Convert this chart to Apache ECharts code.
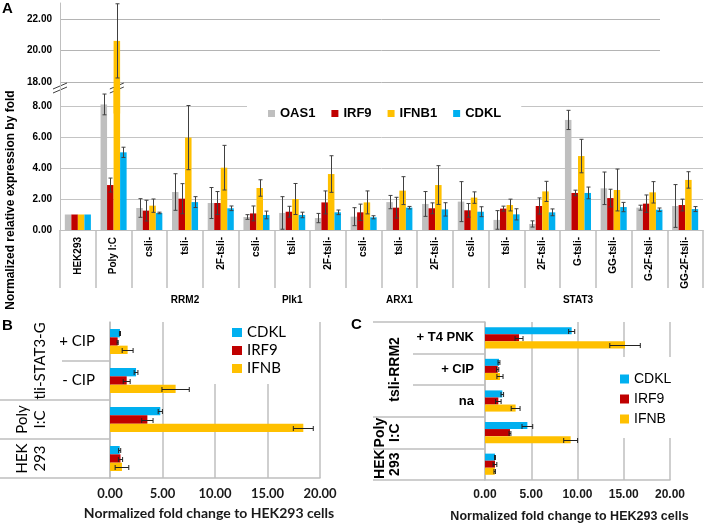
<!DOCTYPE html>
<html><head><meta charset="utf-8">
<script src="https://cdn.jsdelivr.net/npm/echarts@6.0.0/dist/echarts.min.js"></script>
<style>html,body{margin:0;padding:0;background:#fff}#c{width:705px;height:526px}</style>
</head><body><div id="c"></div>
<script>
// ---------------- Panel A data ----------------
const catsA = ['HEK293','Poly I:C','RRM2|csli-','RRM2|tsli-','RRM2|2F-tsli-','Plk1|csli-','Plk1|tsli-','Plk1|2F-tsli-','ARX1|csli-','ARX1|tsli-','ARX1|2F-tsli-','STAT3|csli-','STAT3|tsli-','STAT3|2F-tsli-','STAT3|G-tsli-','STAT3|GG-tsli-','STAT3|G-2F-tsli-','STAT3|GG-2F-tsli-'];
const oas1     = [1.00, 8.10, 1.42, 2.45, 1.74, 0.84, 1.10, 0.77, 0.86, 1.80, 1.68, 1.83, 0.65, 0.39, 7.10, 2.69, 1.44, 1.55];
const oas1Err  = [0.00, 0.67, 0.60, 1.18, 1.00, 0.15, 1.05, 0.30, 0.58, 0.43, 0.80, 1.29, 0.60, 0.20, 0.62, 1.05, 0.16, 1.38];
const irf9     = [1.00, 2.90, 1.25, 2.02, 1.74, 1.07, 1.18, 1.78, 1.14, 1.44, 1.40, 1.27, 1.38, 1.55, 2.39, 2.06, 1.70, 1.61];
const irf9Err  = [0.00, 0.45, 0.67, 0.97, 0.74, 0.48, 0.35, 0.74, 0.53, 0.67, 0.35, 0.44, 0.16, 0.52, 0.18, 0.57, 0.56, 0.38];
const ifnb1    = [1.00, 20.6, 1.57, 5.96, 4.02, 2.71, 2.00, 3.61, 1.78, 2.54, 2.90, 2.09, 1.61, 2.49, 4.77, 2.58, 2.43, 3.23];
const ifnb1Err = [0.00, 2.35, 0.43, 2.07, 1.44, 0.53, 1.00, 1.18, 0.74, 0.90, 1.25, 0.37, 0.38, 0.65, 1.08, 1.35, 0.69, 0.53];
const cdkl     = [1.00, 5.01, 1.10, 1.80, 1.40, 0.97, 0.97, 1.14, 0.82, 1.44, 1.33, 1.18, 1.01, 1.14, 2.39, 1.48, 1.31, 1.35];
const cdklErr  = [0.00, 0.33, 0.05, 0.35, 0.15, 0.25, 0.18, 0.15, 0.10, 0.08, 0.43, 0.32, 0.36, 0.22, 0.38, 0.30, 0.11, 0.16];
const yTicksLowerA = [0, 9.16];   // lower (unbroken) segment of the broken axis
const yTicksUpperA = [16, 23];    // upper segment

// ---------------- Panel B data ----------------
const catsB = ['tli-STAT3-G|+ CIP','tli-STAT3-G|- CIP','Poly I:C','HEK 293'];
const cdklB    = [0.95, 2.48, 4.79, 0.92];
const cdklBErr = [0.05, 0.18, 0.20, 0.10];
const irf9B    = [0.73, 1.59, 3.56, 1.00];
const irf9BErr = [0.05, 0.33, 0.54, 0.20];
const ifnbB    = [1.68, 6.25, 18.41, 1.14];
const ifnbBErr = [0.52, 1.30, 0.95, 0.65];

// ---------------- Panel C data ----------------
const catsC = ['tsli-RRM2|+ T4 PNK','tsli-RRM2|+ CIP','tsli-RRM2|na','Poly I:C','HEK 293'];
const cdklC    = [9.37, 1.51, 1.87, 4.58, 1.08];
const cdklCErr = [0.33, 0.10, 0.14, 0.58, 0.05];
const irf9C    = [3.68, 1.37, 1.44, 2.70, 1.08];
const irf9CErr = [0.43, 0.12, 0.30, 0.10, 0.20];
const ifnbC    = [15.14, 1.62, 3.31, 9.26, 1.05];
const ifnbCErr = [1.65, 0.33, 0.48, 0.75, 0.08];
const xTicksBC = [0, 20, 5];      // min, max, interval

// ---------------- styles ----------------
const FA = 'Arial, "Liberation Sans", sans-serif';
const FB = 'Lato, "Open Sans", sans-serif';
const COL = {OAS1:'#BFBFBF', IRF9:'#C00000', IFNB:'#FFC000', CDKL:'#00B0F0'};
const GL = '#bfbfbf';

// grouping helpers
const grp = c => c.includes('|') ? c.split('|')[0] : '';
const inner = c => c.includes('|') ? c.split('|')[1] : '';
const groupStartsA = catsA.map((c,i)=> (i===0 || grp(c)!==grp(catsA[i-1])) ? i : -1).filter(i=>i>=0);
const groupAxisA = catsA.map(()=> '');
groupStartsA.forEach((s,k)=>{
  const e = k+1 < groupStartsA.length ? groupStartsA[k+1] : catsA.length;
  if (grp(catsA[s])) groupAxisA[Math.floor((s+e-1)/2)] = grp(catsA[s]);
});
function outerLabels(cats){
  const n = cats.length, out = new Array(2*n+1).fill('');
  const g = c => c.includes('|') ? c.split('|')[0] : c;
  let s = 0;
  for (let i=1;i<=n;i++){
    if (i===n || g(cats[i])!==g(cats[s])){
      out[s+i] = cats[s].includes('|') ? g(cats[s]) : cats[s].replace(' ', '\n');
      s = i;
    }
  }
  return out;
}
const outerB = outerLabels(catsB), outerC = outerLabels(catsC);
const innerTicks = cats => cats.map((c,i)=> (i>0 && cats[i-1].includes('|')) ? i : -1).filter(i=>i>=0);
const outerTicksB = [2,3,4].map(k=>2*k);
const outerTicksC = [0,3,4,5].map(k=>2*k);

const LAY = {
  aUpper:{left:60, right:2, top:3, height:110.5},
  aLower:{left:60, right:2, top:88, height:142},
  b:{left:110, right:385, top:322, height:156},
  c:{left:485, right:35, top:322, height:158}
};

function bars(name, data, xi, yi, color, gap){
  return {type:'bar', name, data, xAxisIndex:xi, yAxisIndex:yi, barGap:'0%', barCategoryGap:gap,
    itemStyle:{color}, z:2, silent:true};
}
function errs(vals, e, xi, yi, j, n, gap, horizontal, cap, color){
  const data = vals.map((v,i)=> horizontal ? [v-e[i], v+e[i], i, e[i]] : [i, v-e[i], v+e[i], e[i]]);
  return {
    type:'custom', xAxisIndex:xi, yAxisIndex:yi, clip:true, silent:true, z:3,
    encode: horizontal ? {x:[0,1], y:2} : {x:0, y:[1,2]},
    data,
    renderItem(params, api){
      if (!(api.value(3) > 0)) return;
      const st = {stroke:color, lineWidth:1};
      if (!horizontal){
        const band = api.size([1,0])[0];
        const gw = band*(1-gap), bw = gw/n, off = -gw/2 + (j+0.5)*bw;
        const p1 = api.coord([api.value(0), api.value(1)]);
        const p2 = api.coord([api.value(0), api.value(2)]);
        const x = Math.round(p1[0]+off)+0.5;
        return {type:'group', children:[
          {type:'line', shape:{x1:x,y1:p1[1],x2:x,y2:p2[1]}, style:st},
          {type:'line', shape:{x1:x-cap,y1:p1[1],x2:x+cap,y2:p1[1]}, style:st},
          {type:'line', shape:{x1:x-cap,y1:p2[1],x2:x+cap,y2:p2[1]}, style:st}]};
      } else {
        const band = api.size([0,1])[1];
        const gw = band*(1-gap), bw = gw/n, off = -gw/2 + (j+0.5)*bw;
        const p1 = api.coord([api.value(0), api.value(2)]);
        const p2 = api.coord([api.value(1), api.value(2)]);
        const y = Math.round(p1[1]+off)+0.5;
        return {type:'group', children:[
          {type:'line', shape:{x1:p1[0],y1:y,x2:p2[0],y2:y}, style:st},
          {type:'line', shape:{x1:p1[0],y1:y-cap,x2:p1[0],y2:y+cap}, style:st},
          {type:'line', shape:{x1:p2[0],y1:y-cap,x2:p2[0],y2:y+cap}, style:st}]};
      }
    }
  };
}

const gapA = 0.27, gapB = 0.36, gapC = 0.33;
const seriesA = [['OAS1',oas1,oas1Err,COL.OAS1],['IRF9',irf9,irf9Err,COL.IRF9],['IFNB1',ifnb1,ifnb1Err,COL.IFNB],['CDKL',cdkl,cdklErr,COL.CDKL]];
const seriesB = [['CDKL',cdklB,cdklBErr,COL.CDKL],['IRF9',irf9B,irf9BErr,COL.IRF9],['IFNB',ifnbB,ifnbBErr,COL.IFNB]];
const seriesC = [['CDKL',cdklC,cdklCErr,COL.CDKL],['IRF9',irf9C,irf9CErr,COL.IRF9],['IFNB',ifnbC,ifnbCErr,COL.IFNB]];

const series = [];
seriesA.forEach(([n,v,e,c],j)=>{
  series.push(bars(n, v, 1, 1, c, gapA*100+'%'));
  series.push(bars(n, v, 0, 0, c, gapA*100+'%'));
  series.push(errs(v, e, 1, 1, j, 4, gapA, false, 2, '#404040'));
  series.push(errs(v, e, 0, 0, j, 4, gapA, false, 2, '#404040'));
});
seriesB.forEach(([n,v,e,c],j)=>{
  series.push(bars(n, v, 2, 2, c, gapB*100+'%'));
  series.push(errs(v, e, 2, 2, j, 3, gapB, true, 2.5, '#222'));
});
seriesC.forEach(([n,v,e,c],j)=>{
  series.push(bars(n, v, 3, 3, c, gapC*100+'%'));
  series.push(errs(v, e, 3, 3, j, 3, gapC, true, 2.5, '#222'));
});

const axLabA = {fontFamily:FA, fontWeight:'bold', fontSize:10, color:'#000'};
const fmt2 = v => v.toFixed(2);
function valueAxisBC(gi, font, fsize, nameSize, nameGap, namePadRight){
  return {gridIndex:gi, type:'value', min:xTicksBC[0], max:xTicksBC[1], interval:xTicksBC[2],
    axisLine:{show:true, lineStyle:{color:GL, width:1.5}}, axisTick:{show:false},
    splitLine:{show:true, lineStyle:{color:GL, width:1.5}},
    axisLabel:{formatter:fmt2, margin:9, fontFamily:font, fontWeight:'bold', fontSize:fsize, color:'#1a1a1a'},
    name:'Normalized fold change to HEK293 cells', nameLocation:'middle', nameGap,
    nameTextStyle:{fontFamily:font, fontWeight:'bold', fontSize:nameSize, color:'#1a1a1a', padding:[0,namePadRight,0,0]}};
}

const option = {
  animation:false,
  backgroundColor:'#fff',
  grid:[LAY.aUpper, LAY.aLower, LAY.b, LAY.c, LAY.aLower, LAY.b, LAY.c].map(g=>Object.assign({outerBoundsMode:'none'}, g)),
  xAxis:[
    {gridIndex:0, type:'category', data:catsA, show:false},
    {gridIndex:1, type:'category', data:catsA,
      axisLine:{show:true, lineStyle:{color:GL, width:1}},
      axisTick:{show:true, interval:0, length:58, lineStyle:{color:GL, width:1.5}},
      axisLabel:Object.assign({interval:0, rotate:90, margin:7, formatter:v=>v.includes('|')?inner(v):v}, axLabA)},
    valueAxisBC(2, FB, 13, 14, 28, 12),
    valueAxisBC(3, FA, 12, 12.5, 30, 16),
    {gridIndex:4, type:'category', data:groupAxisA, position:'bottom', offset:58,
      axisLine:{show:false},
      axisTick:{show:true, interval:(i)=>groupStartsA.includes(i), length:18, lineStyle:{color:GL, width:1.5}},
      axisLabel:Object.assign({interval:0, margin:7}, axLabA)},
    {gridIndex:5, type:'value', show:false},
    {gridIndex:6, type:'value', show:false}
  ],
  yAxis:[
    {gridIndex:0, type:'value', min:yTicksUpperA[0], max:yTicksUpperA[1], interval:2,
      axisLine:{show:true, lineStyle:{color:GL}}, axisTick:{show:false},
      splitLine:{show:true, showMinLine:false, showMaxLine:false, lineStyle:{color:'#b4b4b4'}},
      axisLabel:Object.assign({formatter:fmt2, margin:8, showMinLabel:false, showMaxLabel:false}, axLabA)},
    {gridIndex:1, type:'value', min:yTicksLowerA[0], max:yTicksLowerA[1], interval:2,
      axisLine:{show:true, lineStyle:{color:GL}}, axisTick:{show:false},
      splitLine:{show:true, showMaxLine:false, lineStyle:{color:'#c4c4c4'}},
      axisLabel:Object.assign({formatter:fmt2, margin:8, showMaxLabel:false}, axLabA)},
    {gridIndex:2, type:'category', inverse:true, data:catsB,
      axisLine:{show:true, lineStyle:{color:GL, width:1.5}},
      axisTick:{show:true, interval:(i)=>innerTicks(catsB).includes(i), length:48, lineStyle:{color:GL, width:1.5}},
      axisLabel:{interval:0, margin:15, formatter:inner, fontFamily:FB, fontSize:15, color:'#000'}},
    {gridIndex:3, type:'category', inverse:true, data:catsC,
      axisLine:{show:true, lineStyle:{color:GL, width:1.5}},
      axisTick:{show:true, interval:(i)=>innerTicks(catsC).includes(i), length:72, lineStyle:{color:GL, width:1.5}},
      axisLabel:{interval:0, margin:11, formatter:inner, fontFamily:FA, fontWeight:'bold', fontSize:13, color:'#000'}},
    {gridIndex:4, type:'value', show:false},
    {gridIndex:5, type:'category', inverse:true, boundaryGap:false, data:outerB,
      axisLine:{show:false},
      axisTick:{show:true, interval:(i)=>outerTicksB.includes(i), length:110, lineStyle:{color:GL, width:1.5}},
      axisLabel:{interval:0, rotate:90, margin:61, lineHeight:18, fontFamily:FB, fontSize:15, color:'#000'}},
    {gridIndex:6, type:'category', inverse:true, boundaryGap:false, data:outerC,
      axisLine:{show:false},
      axisTick:{show:true, interval:(i)=>outerTicksC.includes(i), length:112, lineStyle:{color:GL, width:1.5}},
      axisLabel:{interval:0, rotate:90, margin:82, lineHeight:15, fontFamily:FA, fontWeight:'bold', fontSize:14, color:'#000'}}
  ],
  legend:[
    {data:['OAS1','IRF9','IFNB1','CDKL'], left:247, top:97, orient:'horizontal', padding:[10,20,10,21],
      backgroundColor:'#fff', itemWidth:7, itemHeight:7, itemGap:16, icon:'rect', selectedMode:false,
      textStyle:{fontFamily:FA, fontWeight:'bold', fontSize:13, color:'#000'}},
    {data:['CDKL','IRF9','IFNB'], left:207, top:322, orient:'vertical', padding:[3,8,8,25],
      backgroundColor:'#fff', itemWidth:10, itemHeight:9, itemGap:3, icon:'rect', selectedMode:false,
      textStyle:{fontFamily:FB, fontSize:15, color:'#000'}},
    {data:['CDKL','IRF9','IFNB'], left:610, top:357, orient:'vertical', padding:[15,12,12,10],
      backgroundColor:'#fff', itemWidth:9, itemHeight:9, itemGap:6, icon:'rect', selectedMode:false,
      textStyle:{fontFamily:FA, fontSize:14, color:'#000'}}
  ],
  series
};

const chart = echarts.init(document.getElementById('c'), null, {renderer:'canvas'});
chart.setOption(option);

// decorations: axis-break marks, panel letters, y-axis title
const yBreak = chart.convertToPixel({yAxisIndex:1}, yTicksLowerA[1]);
const x0 = chart.convertToPixel({xAxisIndex:1}, catsA[0]);
const x1 = chart.convertToPixel({xAxisIndex:1}, catsA[1]);
const band = x1 - x0, gw = band*(1-gapA), bw = gw/4;
const xIfnbPoly = x1 - gw/2 + 2.5*bw;
const xAxisLineA = x0 - band/2;
const y20 = chart.convertToPixel({yAxisIndex:0}, 20), y22 = chart.convertToPixel({yAxisIndex:0}, 22);
function breakMark(x, y, w){
  return {type:'group', x, y, z:100, children:[
    {type:'polygon', shape:{points:[[-w,1],[w,-5],[w,-1],[-w,5]]}, style:{fill:'#fff'}},
    {type:'line', shape:{x1:-w,y1:1,x2:w,y2:-5}, style:{stroke:'#404040', lineWidth:1}},
    {type:'line', shape:{x1:-w,y1:5,x2:w,y2:-1}, style:{stroke:'#404040', lineWidth:1}}
  ]};
}
chart.setOption({graphic:[
  breakMark(xAxisLineA, yBreak, 7),
  breakMark(xIfnbPoly, yBreak, 7),
  {type:'rect', z:50, shape:{x:660, y:y22-4, width:50, height:y20-y22+8}, style:{fill:'#fff'}},
  {type:'text', x:2, y:1, z:60, style:{text:'A', font:'bold 15px Arial', fill:'#000'}},
  {type:'text', x:2, y:318, z:60, style:{text:'B', font:'bold 15px Arial', fill:'#000'}},
  {type:'text', x:351, y:317, z:60, style:{text:'C', font:'bold 15px Arial', fill:'#000'}},
  {type:'text', x:11, y:200, rotation:Math.PI/2, z:60,
    style:{text:'Normalized relative expression by fold', font:'bold 12px Arial', fill:'#000', align:'center', verticalAlign:'middle'}}
]});
</script></body></html>
